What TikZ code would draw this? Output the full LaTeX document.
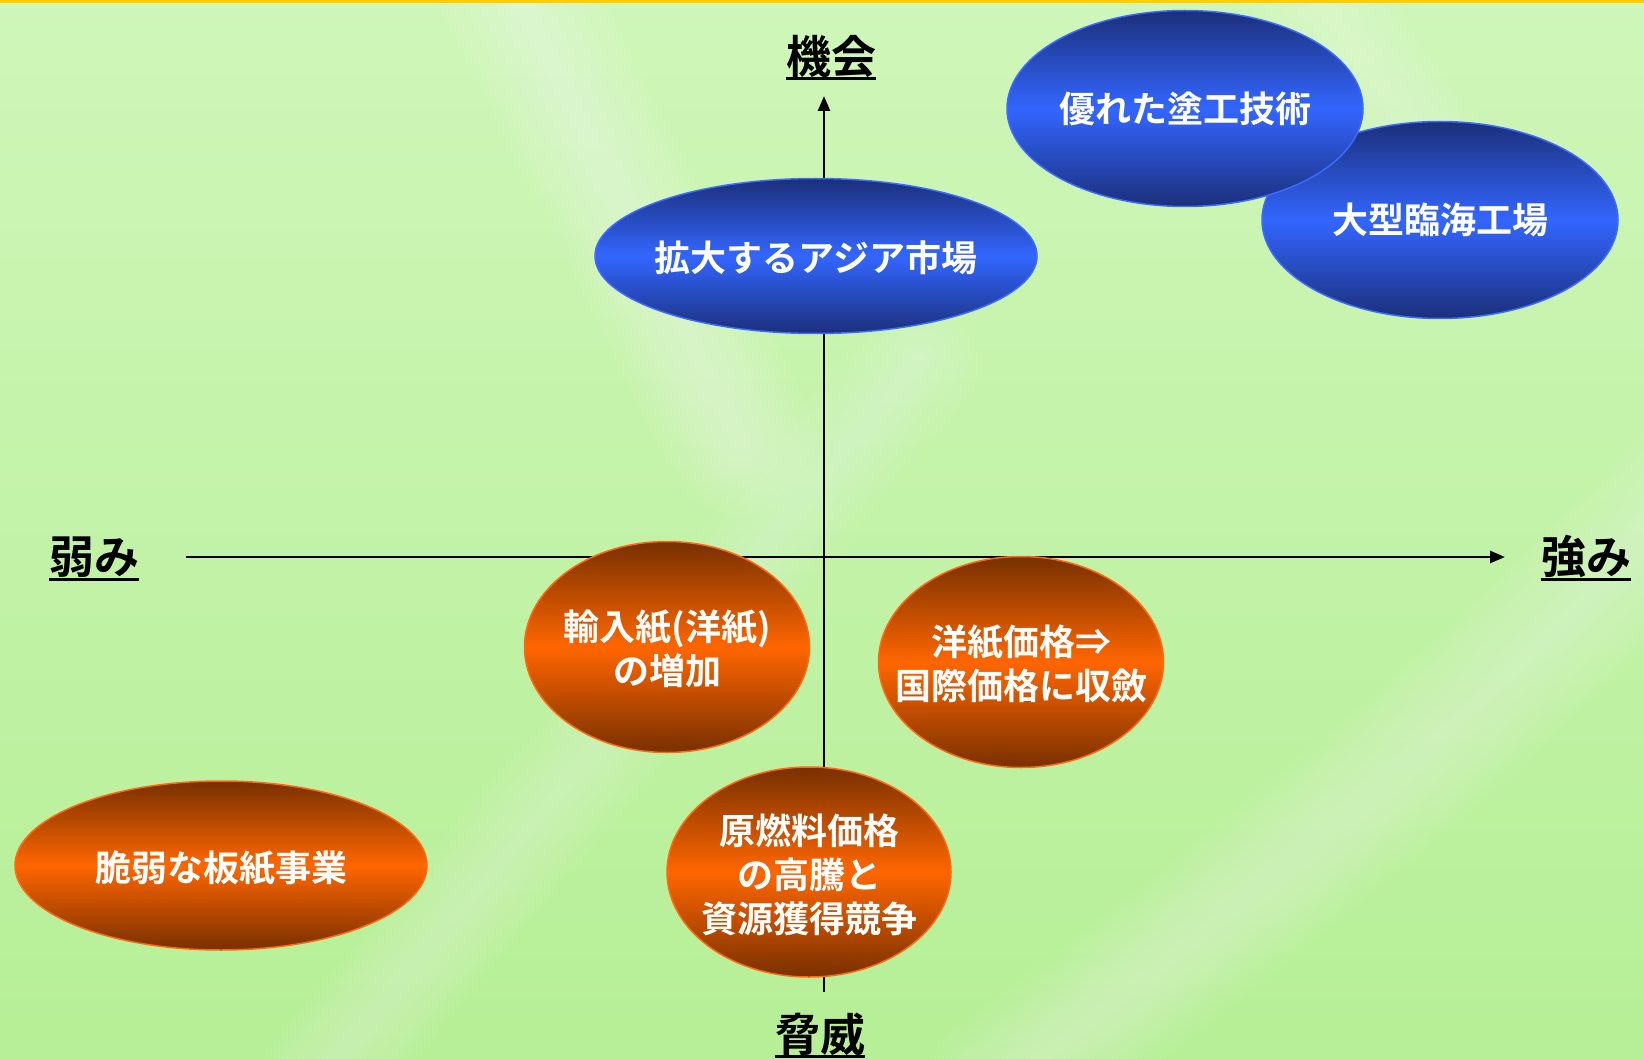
\documentclass[tikz,border=0pt]{standalone}
\usepackage{fontspec}
\setmainfont{Noto Sans CJK JP}[BoldFont={Noto Sans CJK JP Bold}]
\usetikzlibrary{shapes.geometric,arrows.meta}
\definecolor{bgTop}{HTML}{CFF6B9}
\definecolor{bgBot}{HTML}{B6EF96}
\definecolor{topLine}{HTML}{FFCC00}
\definecolor{blueDark}{HTML}{1C2F7A}
\definecolor{blueMid}{HTML}{3366FF}
\definecolor{blueEdge}{HTML}{3D6BFF}
\definecolor{orDark}{HTML}{783000}
\definecolor{orMid}{HTML}{FF6600}
\definecolor{orEdge}{HTML}{FF6A10}
\begin{document}
\begin{tikzpicture}[x=1pt,y=-1pt,
  axisline/.style={line width=2.5pt,black,-{Triangle[length=15pt,width=12pt]}},
  axlabel/.style={font=\fontsize{45}{50}\selectfont\bfseries,inner sep=0pt,anchor=base},
  ulstyle/.style={line width=3pt,black},
  blueell/.style={ellipse,draw=blueEdge,line width=1.5pt,top color=blueDark,bottom color=blueDark,middle color=blueMid,inner sep=0pt},
  orell/.style={ellipse,draw=orEdge,line width=1.5pt,top color=orDark,bottom color=orDark,middle color=orMid,inner sep=0pt},
  elltext/.style={text=white,font=\fontsize{36}{44}\selectfont\bfseries,align=center,inner sep=0pt},
  softstreak/.style={white,opacity=0.045,line cap=round}
]
\useasboundingbox (0,0) rectangle (1644,1059);
% background
\fill[top color=bgTop,bottom color=bgBot] (0,0) rectangle (1644,1059);
\foreach \w in {15,30,...,150} {
  \draw[softstreak,line width=\w pt] (500,-40) -- (740,440);
  \draw[softstreak,line width=0.8*\w pt,opacity=0.03] (320,1080) -- (920,360);
  \draw[softstreak,line width=\w pt,opacity=0.035] (1000,1090) .. controls (1300,860) and (1500,700) .. (1680,500);
  \draw[softstreak,line width=0.8*\w pt,opacity=0.03] (1290,-40) -- (1450,180);
}
\fill[topLine] (0,0) rectangle (1644,3);

% axes
\coordinate (vbot) at (824,992);
\coordinate (vtop) at (824,96);
\coordinate (hleft) at (186,557);
\coordinate (hright) at (1505,557);
\draw[axisline] (vbot) -- (vtop);
\draw[axisline] (hleft) -- (hright);

% axis labels
\node[axlabel] (kikai) at (831,74) {機会};
\draw[ulstyle] ([yshift=-4.5pt]kikai.base west) -- ([yshift=-4.5pt]kikai.base east);
\node[axlabel] (yowami) at (94,573) {弱み};
\draw[ulstyle] ([yshift=-6pt]yowami.base west) -- ([yshift=-6pt]yowami.base east);
\node[axlabel] (tsuyomi) at (1586,573) {強み};
\draw[ulstyle] ([yshift=-6pt]tsuyomi.base west) -- ([yshift=-6pt]tsuyomi.base east);
\node[axlabel] (kyoui) at (820,1051) {脅威};
\draw[ulstyle] ([yshift=-5pt]kyoui.base west) -- ([yshift=-5pt]kyoui.base east);

% blue ellipses
\node[blueell,minimum width=356pt,minimum height=197pt] (e2) at (1440,220) {};
\node[elltext] (t2) at (e2.center) {大型臨海工場};
\node[blueell,minimum width=356pt,minimum height=196pt] (e1) at (1185,108.5) {};
\node[elltext] (t1) at (e1.center) {優れた塗工技術};
\node[blueell,minimum width=442pt,minimum height=155pt] (e3) at (816,256) {};
\node[elltext] (t3) at ([yshift=-2pt]e3.center) {拡大するアジア市場};

% orange ellipses
\node[orell,minimum width=285pt,minimum height=211pt] (e4) at (667,647) {};
\node[elltext] (t4) at ([yshift=-2pt]e4.center) {輸入紙(洋紙)\\の増加};
\node[orell,minimum width=285pt,minimum height=211pt] (e5) at (1021,662) {};
\node[elltext] (t5) at ([yshift=-2pt]e5.center) {洋紙価格⇒\\国際価格に収斂};
\node[orell,minimum width=284pt,minimum height=210pt] (e6) at (809,872) {};
\node[elltext] (t6) at ([yshift=-3pt]e6.center) {原燃料価格\\の高騰と\\資源獲得競争};
\node[orell,minimum width=412pt,minimum height=169pt] (e7) at (221,865.5) {};
\node[elltext] (t7) at ([yshift=-3pt]e7.center) {脆弱な板紙事業};
\end{tikzpicture}
\end{document}
